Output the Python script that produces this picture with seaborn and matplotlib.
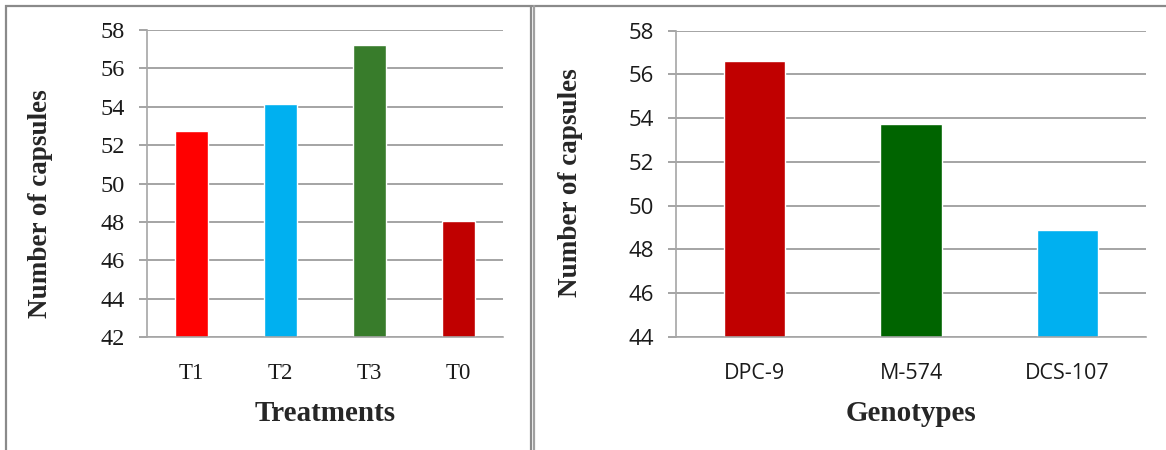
import matplotlib
matplotlib.use("Agg")
import matplotlib.pyplot as plt
from matplotlib.lines import Line2D
import seaborn as sns
import pandas as pd

# Number of capsules by treatment
treatments = ["T1", "T2", "T3", "T0"]
treatment_values = [52.75, 54.13, 57.2, 48.02]
treatment_colors = ["#FF0000", "#00B0F0", "#387C2B", "#C00000"]

# Number of capsules by genotype
genotypes = ["DPC-9", "M-574", "DCS-107"]
genotype_values = [56.6, 53.72, 48.86]
genotype_colors = ["#C00000", "#006400", "#00B0F0"]

left_ticks = [42, 44, 46, 48, 50, 52, 54, 56, 58]
right_ticks = [44, 46, 48, 50, 52, 54, 56, 58]

sns.set_style("white")

W, H = 1166, 450
fig = plt.figure(figsize=(W / 100, H / 100), dpi=100)
fig.patch.set_facecolor("white")


def px_axes(x0, x1, ytop, ybot):
    return fig.add_axes([x0 / W, (H - ybot) / H, (x1 - x0) / W, (ybot - ytop) / H])


ax1 = px_axes(147, 503, 30, 337)
ax2 = px_axes(676, 1146, 30.7, 336.6)

GRID = "#8c8c8c"
SPINE = "#a6a6a6"
SERIF = "Liberation Serif"
SANS = "Open Sans"


def style_axes(ax, ticks, tick_font, tick_size, xtick_font, xtick_size, ypad):
    ax.set_ylim(ticks[0], ticks[-1])
    ax.set_yticks(ticks)
    ax.yaxis.grid(True, color=GRID, linewidth=1.1)
    ax.xaxis.grid(False)
    ax.set_axisbelow(True)
    for side in ("top", "right"):
        ax.spines[side].set_visible(False)
    for side in ("left", "bottom"):
        ax.spines[side].set_color(SPINE)
        ax.spines[side].set_linewidth(1.2)
    ax.tick_params(axis="y", length=6, width=1.1, color=GRID, pad=ypad,
                   direction="out", left=True, labelsize=tick_size,
                   labelfontfamily=tick_font, labelcolor="#1a1a1a")
    ax.tick_params(axis="x", length=0, pad=19, labelsize=xtick_size,
                   labelfontfamily=xtick_font, labelcolor="#1a1a1a")


df1 = pd.DataFrame({"Treatment": treatments, "Capsules": treatment_values})
sns.barplot(data=df1, x="Treatment", y="Capsules", hue="Treatment",
            palette=dict(zip(treatments, treatment_colors)), width=0.38,
            dodge=False, legend=False, ax=ax1, saturation=1)
style_axes(ax1, left_ticks, SERIF, 17.5, SERIF, 16.5, 10)
ax1.set_xlabel("Treatments", fontfamily=SERIF, fontsize=21, fontweight="bold")
ax1.set_ylabel("Number of capsules", fontfamily=SERIF, fontsize=19.5, fontweight="bold")
ax1.xaxis.set_label_coords(0.5, -0.205)
ax1.yaxis.set_label_coords(-0.265, 0.436)

df2 = pd.DataFrame({"Genotype": genotypes, "Capsules": genotype_values})
sns.barplot(data=df2, x="Genotype", y="Capsules", hue="Genotype",
            palette=dict(zip(genotypes, genotype_colors)), width=0.39,
            dodge=False, legend=False, ax=ax2, saturation=1)
style_axes(ax2, right_ticks, SANS, 16, SANS, 15.5, 10)
ax2.set_xlabel("Genotypes", fontfamily=SERIF, fontsize=21, fontweight="bold")
ax2.set_ylabel("Number of capsules", fontfamily=SERIF, fontsize=19.5, fontweight="bold")
ax2.xaxis.set_label_coords(0.5, -0.207)
ax2.yaxis.set_label_coords(-0.198, 0.503)

# Panel frame: top rule, left rule and a double divider between panels
FRAME = "#8a8a8a"


def frame_line(xs, ys, color=FRAME, lw=1.6):
    fig.add_artist(Line2D([x / W for x in xs], [1 - y / H for y in ys],
                          color=color, linewidth=lw, solid_capstyle="butt"))


frame_line([5, W], [6, 6])
frame_line([6, 6], [5, H])
frame_line([531.3, 531.3], [5, H])
frame_line([534.3, 534.3], [5, H], color="#a0a0a0")

fig.savefig("out.png", dpi=100, facecolor="white")
